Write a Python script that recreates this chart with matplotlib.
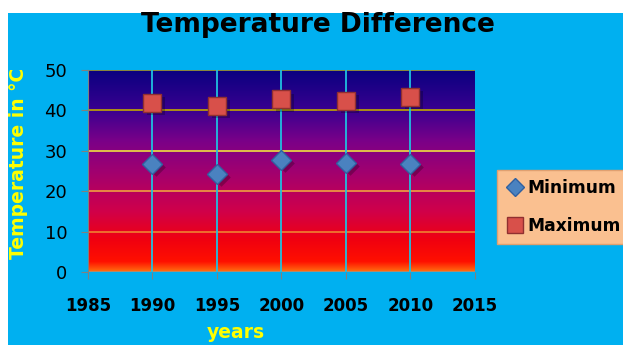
import numpy as np
import matplotlib.pyplot as plt
from matplotlib.colors import LinearSegmentedColormap
from matplotlib.patches import Rectangle

years = [1990, 1995, 2000, 2005, 2010]
minimum = [26.7, 24.3, 27.7, 27.1, 26.7]
maximum = [41.8, 41.2, 42.7, 42.3, 43.4]
x_ticks = [1985, 1990, 1995, 2000, 2005, 2010, 2015]
y_ticks = [0, 10, 20, 30, 40, 50]

BLUE_BG = '#00b0f0'

fig = plt.figure(figsize=(6.23, 3.45), dpi=100)
fig.patch.set_facecolor('white')
# blue chart area (thin white strip on top and left as in the screenshot)
fig.patches.append(Rectangle((8 / 623, 0), 1, 1 - 13 / 345, transform=fig.transFigure,
                             facecolor=BLUE_BG, edgecolor='none', zorder=-10))

ax = fig.add_axes([88 / 623, 1 - 272 / 345, 387 / 623, 202 / 345])
ax.set_xlim(1985, 2015)
ax.set_ylim(0, 50)

# gradient fill of the plot area
grad = LinearSegmentedColormap.from_list('bg', [
    (0.0, '#ff7010'), (0.05, '#ff1000'), (0.16, '#f00010'), (0.3, '#d0004a'),
    (0.5, '#a00070'), (0.65, '#7a0088'), (0.8, '#3a0090'), (1.0, '#0a0080')])
ax.imshow(np.linspace(0, 1, 256).reshape(-1, 1), cmap=grad, origin='lower',
          extent=[1985, 2015, 0, 50], aspect='auto', zorder=0)

hcolors = ['#a09080', '#f08030', '#f0a040', '#f0e040', '#c0a800', '#a0a030']
for yv, c in zip(y_ticks, hcolors):
    ax.axhline(yv, color=c, lw=1.2, zorder=1)
for xv in x_ticks[1:-1]:
    ax.axvline(xv, color='#20c0e0', lw=1.3, zorder=1)

# soft shadows
ax.scatter([y + 0.3 for y in years], [v - 0.8 for v in minimum], marker='D', s=90,
           color='black', alpha=0.25, zorder=2, linewidths=0)
ax.scatter([y + 0.3 for y in years], [v - 0.8 for v in maximum], marker='s', s=170,
           color='black', alpha=0.25, zorder=2, linewidths=0)

ax.plot(years, minimum, 'D', ms=10, color='#4a82c0', mec='#3060a0', mew=1,
        label='Minimum', zorder=3)
ax.plot(years, maximum, 's', ms=13.5, color='#d8504a', mec='#903030', mew=1,
        label='Maximum', zorder=3)

for s in ax.spines.values():
    s.set_visible(False)
ax.spines['left'].set_visible(True)
ax.spines['left'].set_color('#808080')
ax.set_xticks(x_ticks)
ax.set_yticks(y_ticks)
ax.tick_params(axis='x', length=5, color='#808080', pad=13, labelsize=12)
ax.tick_params(axis='y', length=5, color='#808080', pad=10, labelsize=13)
for t in ax.get_xticklabels():
    t.set_fontweight('bold')

fig.text(318 / 623, 1 - 25 / 345, 'Temperature Difference', ha='center', va='center',
         fontsize=19, fontweight='bold', color='black')
fig.text(19 / 623, 1 - 163 / 345, 'Temperature in °C', ha='center', va='center',
         rotation=90, fontsize=13.5, fontweight='bold', color='#ffff00')
fig.text(236 / 623, 1 - 333 / 345, 'years', ha='center', va='center',
         fontsize=13.5, fontweight='bold', color='#ffff00')

leg = ax.legend(loc='upper left', bbox_to_anchor=(1.057, 0.505), frameon=True,
                fancybox=False, prop={'weight': 'bold', 'size': 12.3},
                handletextpad=0.25, handlelength=1.0, labelspacing=1.15,
                borderpad=0.55, borderaxespad=0, markerscale=0.9)
leg.get_frame().set_facecolor('#fac090')
leg.get_frame().set_edgecolor('#e0a070')
leg.get_frame().set_alpha(1)

fig.savefig('out.png', dpi=100)
